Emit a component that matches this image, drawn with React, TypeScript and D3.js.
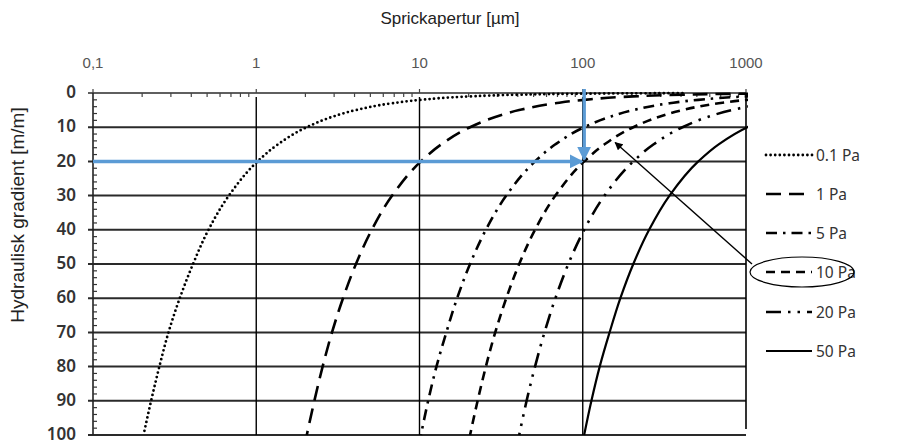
import * as d3 from 'd3';

// x: Sprickapertur [µm] (log), y: Hydraulisk gradient [m/m]
const apertureTicks = [0.1, 1, 10, 100, 1000];
const apertureTickLabels = ['0,1', '1', '10', '100', '1000'];
const gradientTicks = [0, 10, 20, 30, 40, 50, 60, 70, 80, 90, 100];

const gradients = [0.05, 0.1, 0.2, 0.5, 1, 2, 3, 5, 7, 10, 15, 20, 30, 40, 50, 60, 70, 80, 90, 100];
const pa01 = [408, 204, 102, 40.8, 20.4, 10.2, 6.8, 4.08, 2.91, 2.04, 1.36, 1.02, 0.68, 0.51, 0.41, 0.34, 0.29, 0.255, 0.227, 0.204];
const pa1 = [4078, 2039, 1020, 408, 204, 102, 68, 40.8, 29.1, 20.4, 13.6, 10.2, 6.8, 5.1, 4.08, 3.4, 2.91, 2.55, 2.27, 2.04];
const pa5 = [20390, 10195, 5098, 2039, 1020, 510, 340, 204, 146, 102, 68, 51, 34, 25.5, 20.4, 17, 14.6, 12.7, 11.3, 10.2];
const pa10 = [40780, 20390, 10195, 4078, 2039, 1020, 680, 408, 291, 204, 136, 102, 68, 51, 40.8, 34, 29.1, 25.5, 22.7, 20.4];
const pa20 = [81560, 40780, 20390, 8156, 4078, 2039, 1359, 816, 583, 408, 272, 204, 136, 102, 81.6, 68, 58.3, 51, 45.3, 40.8];
const pa50 = [203900, 101950, 50975, 20390, 10195, 5098, 3398, 2039, 1456, 1020, 680, 510, 340, 255, 204, 170, 146, 127, 113, 102];

const seriesNames = ['0.1 Pa', '1 Pa', '5 Pa', '10 Pa', '20 Pa', '50 Pa'];
const seriesValues = [pa01, pa1, pa5, pa10, pa20, pa50];

// blue reading arrows meet here, black arrow points here
const readAperture = 102;
const readGradient = 20;
const pointAperture = 158;
const pointGradient = 14.5;

const styles = [
  { dash: '0 4.6', width: 2.8, cap: 'round' },
  { dash: '15 8', width: 2.6, cap: 'butt' },
  { dash: '11 6 2.5 6', width: 2.6, cap: 'butt' },
  { dash: '9 6', width: 2.6, cap: 'butt' },
  { dash: '15 7 2.5 7 2.5 7', width: 2.6, cap: 'butt' },
  { dash: 'none', width: 2.2, cap: 'butt' },
];

export default function App() {
  const W = 897;
  const H = 444;
  const left = 93, right = 746, top = 93, bottom = 435;

  const x = d3.scaleLog().domain([0.1, 1000]).range([left, right]);
  const y = d3.scaleLinear().domain([0, 100]).range([top, bottom]);

  const line = (vals: number[]) =>
    d3.line<number>()
      .x((v) => x(v))
      .y((_, i) => y(gradients[i]))
      .curve(d3.curveMonotoneY)(vals) || '';

  const minorX: number[] = [];
  [0.1, 1, 10, 100].forEach((d) => {
    for (let k = 2; k <= 9; k++) minorX.push(d * k);
  });
  const minorY = d3.range(0, 101, 2);

  const legendY = [155, 194, 233, 272, 312, 351];
  const blue = '#5b9bd5';
  const lab = '"Noto Sans", "Open Sans", sans-serif';

  return (
    <svg width={W} height={H} style={{ position: 'absolute', left: 0, top: 0, background: '#fff' }}
      fontFamily='"Liberation Sans", Arial, sans-serif'>
      <defs>
        <clipPath id="plot">
          <rect x={left} y={top - 3} width={right - left + 2} height={bottom - top + 5} />
        </clipPath>
        <marker id="blueHead" viewBox="0 0 10 10" refX="9" refY="5" markerWidth="4" markerHeight="4" orient="auto">
          <path d="M0,0 L10,5 L0,10 z" fill={blue} />
        </marker>
        <marker id="blackHead" viewBox="0 0 10 10" refX="9" refY="5" markerWidth="9" markerHeight="8" orient="auto" markerUnits="userSpaceOnUse">
          <path d="M0,0 L10,5 L0,10 z" fill="#000" />
        </marker>
      </defs>

      <text x={450} y={24} textAnchor="middle" fontSize={17} fill="#222">Sprickapertur [µm]</text>
      {apertureTicks.map((t, i) => (
        <text key={t} x={x(t)} y={68} textAnchor="middle" fontSize={15} fill="#555">{apertureTickLabels[i]}</text>
      ))}

      {/* horizontal grid */}
      {gradientTicks.map((g) => (
        <line key={g} x1={left - 5} x2={right} y1={y(g)} y2={y(g)} stroke="#2a2a2a" strokeWidth={g === 0 ? 1.6 : 2} />
      ))}
      {/* vertical grid */}
      {apertureTicks.slice(1, 4).map((t) => (
        <line key={t} x1={x(t)} x2={x(t)} y1={top + 4} y2={bottom} stroke="#000" strokeWidth={1.4} />
      ))}
      <line x1={right} x2={right} y1={top} y2={bottom - 6} stroke="#000" strokeWidth={1.6} />
      <line x1={left} x2={left} y1={top} y2={bottom} stroke="#222" strokeWidth={1.6} />
      {minorY.map((g) => (
        <line key={g} x1={left} x2={left + (g % 10 === 0 ? 0 : 4)} y1={y(g)} y2={y(g)} stroke="#333" strokeWidth={1.2} />
      ))}
      {minorX.map((t) => (
        <line key={t} x1={x(t)} x2={x(t)} y1={top} y2={top + 4} stroke="#444" strokeWidth={1.2} />
      ))}
      {apertureTicks.map((t) => (
        <line key={t} x1={x(t)} x2={x(t)} y1={top - 4} y2={top} stroke="#444" strokeWidth={1.2} />
      ))}

      {gradientTicks.map((g) => (
        <text key={g} x={76} y={y(g)} dy="0.3em" textAnchor="end" fontSize={17} fontWeight={600}
          fontFamily={lab} fill="#333">{g}</text>
      ))}
      <text transform={`translate(24,215) rotate(-90)`} textAnchor="middle" fontSize={19} fill="#222">
        Hydraulisk gradient [m/m]
      </text>

      <g clipPath="url(#plot)">
        {seriesValues.map((vals, i) => (
          <path key={i} d={line(vals)} fill="none" stroke="#000" strokeWidth={styles[i].width}
            strokeDasharray={styles[i].dash} strokeLinecap={styles[i].cap as any} />
        ))}
      </g>

      {/* blue reading arrows */}
      <line x1={left} x2={x(readAperture) - 2} y1={y(readGradient)} y2={y(readGradient)} stroke={blue} strokeWidth={3.5}
        markerEnd="url(#blueHead)" />
      <line x1={x(readAperture)} x2={x(readAperture)} y1={top - 4} y2={y(readGradient) - 2} stroke={blue} strokeWidth={3.5}
        markerEnd="url(#blueHead)" />

      {/* legend */}
      {seriesNames.map((name, i) => (
        <g key={name}>
          <line x1={766} x2={812} y1={legendY[i]} y2={legendY[i]} stroke="#000" strokeWidth={styles[i].width}
            strokeDasharray={styles[i].dash} strokeLinecap={styles[i].cap as any} />
          <text x={816} y={legendY[i]} dy="0.36em" fontSize={15.5} fontFamily={lab} fill="#333">{name}</text>
        </g>
      ))}
      <ellipse cx={802} cy={legendY[3]} rx={52} ry={15} fill="none" stroke="#000" strokeWidth={1.2} />
      <line x1={752} x2={x(pointAperture)} y1={legendY[3] - 8} y2={y(pointGradient)} stroke="#000" strokeWidth={1.4}
        markerEnd="url(#blackHead)" />
    </svg>
  );
}
